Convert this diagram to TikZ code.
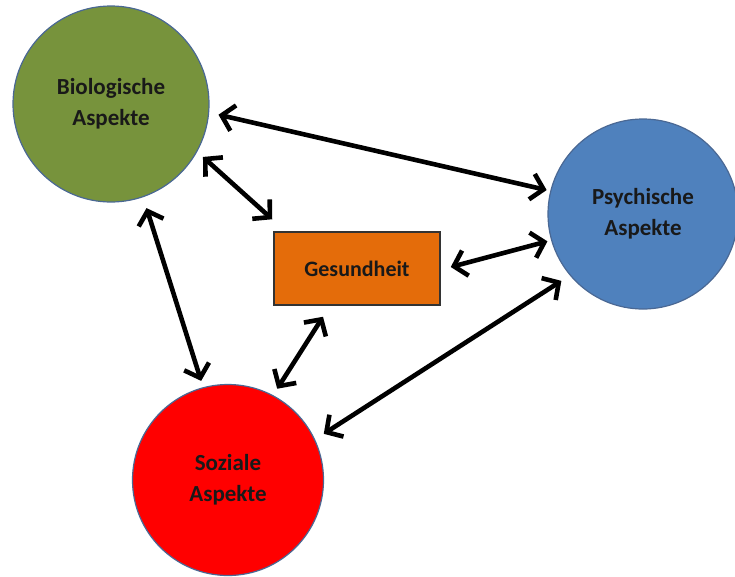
\documentclass[tikz,border=0pt]{standalone}
\usepackage{fontspec}
\setmainfont{Carlito}
\usetikzlibrary{arrows.meta,calc}
\definecolor{bioGreen}{HTML}{77933C}
\definecolor{psyBlue}{HTML}{4F81BD}
\definecolor{sozRed}{HTML}{FF0000}
\definecolor{gesOrange}{HTML}{E46C0A}
\definecolor{rimBlue}{HTML}{4A6894}
\tikzset{
  aspect/.style={circle, draw=rimBlue, line width=1.2pt, inner sep=0pt, minimum size=#1, align=center,
     font=\fontsize{23}{31}\selectfont\bfseries, text=black!90},
  gesbox/.style={rectangle, draw=black!80, line width=1.5pt, fill=gesOrange, minimum width=166pt, minimum height=73pt,
     font=\fontsize{22}{26}\selectfont\bfseries, text=black!90},
  link/.style={line width=4.6pt, {Straight Barb[length=12pt,width=26pt]}-{Straight Barb[length=12pt,width=26pt]}},
}
\begin{document}
\begin{tikzpicture}[x=1pt,y=-1pt]
\useasboundingbox (0,0) rectangle (735,576);
\clip (0,0) rectangle (735,576);
\node[aspect=196pt, fill=bioGreen] (bio) at (111,104) {Biologische\\Aspekte};
\node[aspect=190pt, fill=psyBlue] (psy) at (643,214) {Psychische\\Aspekte};
\node[aspect=191pt, fill=sozRed] (soz) at (228,480) {Soziale\\Aspekte};
\node[gesbox] (ges) at (357,268.5) {Gesundheit};
\draw[link, shorten <=9.5pt, shorten >=3.7pt] (bio.-5.3) -- (psy.166.5);
\draw[link, shorten <=7.7pt] (bio.-29.5) -- ($(ges.north west)+(-1,-12)$);
\draw[link, shorten <=11.4pt, shorten >=6.6pt] (bio.-71.9) -- (soz.105.9);
\draw[link, shorten >=3.8pt] ($(ges.east)+(10,-1.5)$) -- (psy.-164.1);
\draw[link, shorten >=7.6pt] ($(ges.south)+(-34,11)$) -- (soz.62.2);
\draw[link, shorten <=10pt, shorten >=10.3pt] (psy.-140.4) -- (soz.25.8);
\end{tikzpicture}
\end{document}
